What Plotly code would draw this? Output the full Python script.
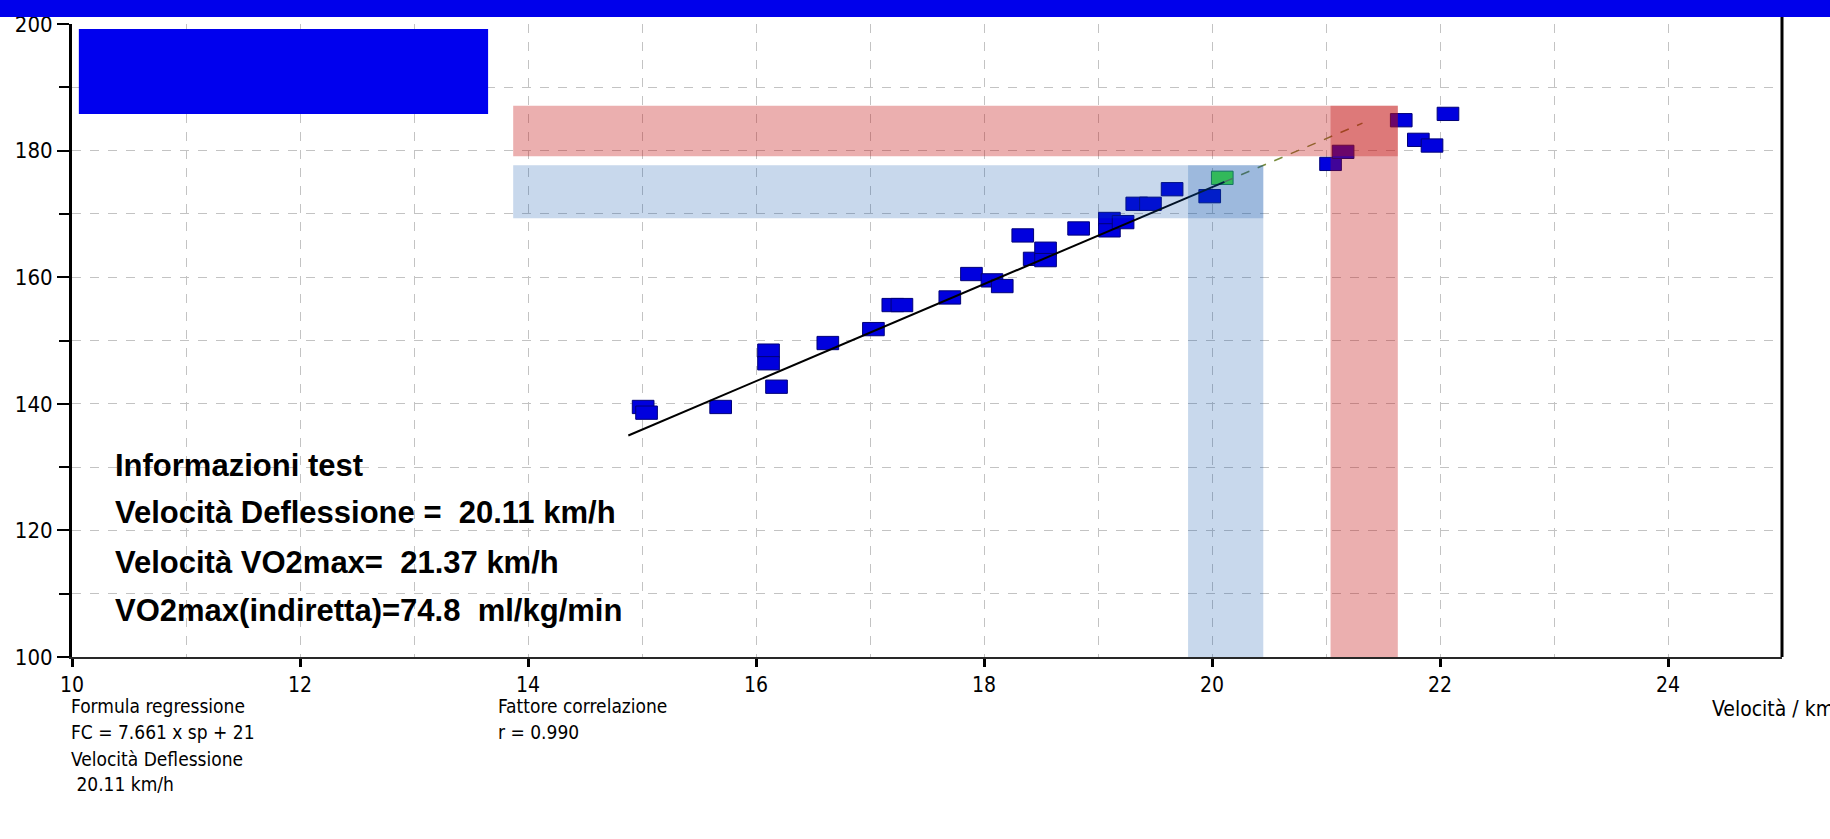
import plotly.graph_objects as go

# Test data: speed (km/h) vs heart rate (bpm)
speed = [15.01, 15.04, 15.69, 16.11, 16.11, 16.18, 16.63, 17.03, 17.20, 17.28,
         17.70, 17.89, 18.07, 18.16, 18.34, 18.44, 18.54, 18.54, 18.83, 19.10,
         19.10, 19.22, 19.34, 19.46, 19.65, 19.98, 21.04, 21.15, 21.66, 21.81,
         21.93, 22.07]
heart_rate = [139.5, 138.6, 139.5, 148.4, 146.4, 142.7, 149.6, 151.8, 155.6, 155.6,
              156.8, 160.5, 159.5, 158.6, 166.6, 162.9, 164.5, 162.7, 167.7, 169.2,
              167.4, 168.7, 171.6, 171.6, 173.9, 172.8, 177.9, 179.8, 184.8, 181.7,
              180.8, 185.8]

# Deflection point (highlighted)
defl_speed = [20.09]
defl_hr = [175.7]

# Regression FC = slope * sp + intercept
slope = 7.661
intercept = 21
fit_start = 14.88
defl_v = 20.11
vo2_v = 21.32

# Shaded zones (speed range, heart-rate range)
zone_left = 13.87
defl_zone_x = [19.79, 20.45]
defl_zone_y = [169.3, 177.7]
vo2_zone_x = [21.04, 21.63]
vo2_zone_y = [179.1, 187.1]

x_ticks = [10, 12, 14, 16, 18, 20, 22, 24]
y_ticks = [100, 120, 140, 160, 180, 200]

BOX_W = 0.19
BOX_H = 2.1

fig = go.Figure()

fig.add_trace(go.Bar(
    x=speed, y=[BOX_H] * len(speed), base=[h - BOX_H / 2 for h in heart_rate],
    width=BOX_W, marker=dict(color="rgb(0,0,222)", line=dict(color="rgb(0,0,120)", width=1)),
    hoverinfo="skip", showlegend=False))

fig.add_trace(go.Bar(
    x=defl_speed, y=[BOX_H] * len(defl_speed), base=[h - BOX_H / 2 for h in defl_hr],
    width=BOX_W, marker=dict(color="rgb(80,255,40)", line=dict(color="rgb(30,140,50)", width=1)),
    hoverinfo="skip", showlegend=False))

fig.add_trace(go.Scatter(
    x=[fit_start, defl_v], y=[slope * fit_start + intercept, slope * defl_v + intercept],
    mode="lines", line=dict(color="black", width=2), hoverinfo="skip", showlegend=False))
fig.add_trace(go.Scatter(
    x=[defl_v, vo2_v], y=[slope * defl_v + intercept, slope * vo2_v + intercept],
    mode="lines", line=dict(color="rgb(120,140,60)", width=1.5, dash="dash"),
    hoverinfo="skip", showlegend=False))

shapes = []
blue_zone = "rgba(5,78,169,0.22)"
red_zone = "rgba(194,13,13,0.33)"
for color, zx, zy in [(blue_zone, defl_zone_x, defl_zone_y), (red_zone, vo2_zone_x, vo2_zone_y)]:
    shapes.append(dict(type="rect", xref="x", yref="y", x0=zone_left, x1=zx[1], y0=zy[0], y1=zy[1],
                       fillcolor=color, line=dict(width=0), layer="above"))
    shapes.append(dict(type="rect", xref="x", yref="y", x0=zx[0], x1=zx[1], y0=100, y1=zy[1],
                       fillcolor=color, line=dict(width=0), layer="above"))

# right frame line
shapes.append(dict(type="line", xref="paper", yref="paper", x0=1, x1=1, y0=0, y1=1.02,
                   line=dict(color="black", width=3), layer="above"))
# header band and title box
shapes.append(dict(type="rect", xref="paper", yref="paper", x0=-0.05, x1=1.05,
                   y0=1 + 7 / 636, y1=1.04, fillcolor="rgb(0,0,235)", line=dict(width=0), layer="above"))
shapes.append(dict(type="rect", xref="x", yref="y", x0=10.06, x1=13.65, y0=185.8, y1=199.2,
                   fillcolor="rgb(0,0,238)", line=dict(width=0), layer="above"))

narrow = "Liberation Sans Narrow, Arial Narrow, DejaVu Sans Condensed, Liberation Sans, Arial"
bold = "Liberation Sans, Arial, sans-serif"

info_lines = ["Informazioni test",
              "Velocità Deflessione =  20.11 km/h",
              "Velocità VO2max=  21.37 km/h",
              "VO2max(indiretta)=74.8  ml/kg/min"]
info_y = [130.3, 122.8, 114.9, 107.4]
annotations = []
for t, yy in zip(info_lines, info_y):
    annotations.append(dict(x=10.36, y=yy, xref="x", yref="y", text=f"<b>{t}</b>", showarrow=False,
                            xanchor="left", yanchor="middle",
                            font=dict(family=bold, size=31, color="black")))

left_notes = ["Formula regressione", "FC = 7.661 x sp + 21", "Velocità Deflessione", " 20.11 km/h"]
right_notes = ["Fattore correlazione", "r = 0.990"]
note_y = [-0.078, -0.119, -0.161, -0.201]
for t, yy in zip(left_notes, note_y):
    annotations.append(dict(x=-0.002, y=yy, xref="paper", yref="paper", text=t, showarrow=False,
                            xanchor="left", yanchor="middle", font=dict(family=narrow, size=19, color="black")))
for t, yy in zip(right_notes, note_y):
    annotations.append(dict(x=(496 - 72) / 1710, y=yy, xref="paper", yref="paper", text=t, showarrow=False,
                            xanchor="left", yanchor="middle", font=dict(family=narrow, size=19, color="black")))
annotations.append(dict(x=(1710 - 72) / 1710, y=-0.082, xref="paper", yref="paper", text="Velocità / km/h",
                        showarrow=False, xanchor="left", yanchor="middle",
                        font=dict(family=narrow, size=21, color="black")))

grid_color = "rgb(195,195,195)"
fig.update_layout(
    width=1830, height=839,
    margin=dict(l=72, r=48, t=21, b=182),
    plot_bgcolor="white", paper_bgcolor="white",
    barmode="overlay",
    shapes=shapes, annotations=annotations,
    xaxis=dict(range=[10, 25], tickvals=x_ticks, ticktext=[str(v) for v in x_ticks],
               showgrid=True, gridcolor=grid_color, griddash="dash", gridwidth=1,
               minor=dict(dtick=1, showgrid=True, gridcolor=grid_color, griddash="dash", ticks=""),
               showline=True, linecolor="rgb(40,40,40)", linewidth=2,
               ticks="outside", ticklen=8, tickwidth=3, tickcolor="black",
               tickfont=dict(family=narrow, size=21, color="black"), zeroline=False, fixedrange=True),
    yaxis=dict(range=[100, 200], tickvals=y_ticks, ticktext=[str(v) for v in y_ticks],
               showgrid=True, gridcolor=grid_color, griddash="dash", gridwidth=1,
               minor=dict(dtick=10, showgrid=True, gridcolor=grid_color, griddash="dash",
                          ticks="outside", ticklen=10, tickwidth=2, tickcolor="black"),
               showline=True, linecolor="black", linewidth=3,
               ticks="outside", ticklen=12, tickwidth=2, tickcolor="black",
               tickfont=dict(family=narrow, size=22, color="black"), zeroline=False, fixedrange=True),
)

fig.write_html("out.html")
